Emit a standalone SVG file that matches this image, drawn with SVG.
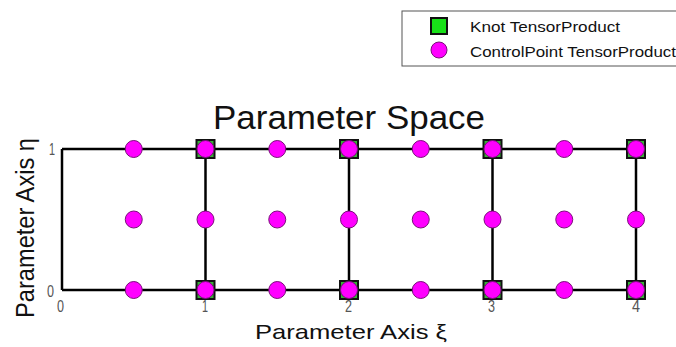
<svg xmlns="http://www.w3.org/2000/svg" width="676" height="347" viewBox="0 0 676 347">
<style>
.grid{stroke:#000;stroke-width:2.5;fill:none}
.knot{fill:#38b038;stroke:#111;stroke-width:2}
.cp{fill:#ff00ff;stroke:#7a107a;stroke-width:1}
.t{font-family:"Liberation Sans",Arial,sans-serif;fill:#111}
.tick{font-family:"Liberation Sans",Arial,sans-serif;fill:#555;font-size:16px}
</style>
<defs>
<rect id="k" x="-9" y="-9" width="18" height="18" class="knot"/>
<circle id="c" r="8.5" class="cp"/>
</defs>
<rect width="676" height="347" fill="#fff"/>
<g id="legend">
<rect x="402" y="11" width="290" height="55" fill="#fff" stroke="#555" stroke-width="1"/>
<rect x="431" y="18" width="16" height="16" fill="#18e018" stroke="#111" stroke-width="2"/>
<circle cx="439" cy="50" r="8" class="cp"/>
<text class="t" x="470" y="32" font-size="15" textLength="150" lengthAdjust="spacingAndGlyphs">Knot TensorProduct</text>
<text class="t" x="470" y="57" font-size="15" textLength="206" lengthAdjust="spacingAndGlyphs">ControlPoint TensorProduct</text>
</g>
<text class="t" x="213" y="129" font-size="33" textLength="272" lengthAdjust="spacingAndGlyphs">Parameter Space</text>
<g id="connectors">
<line class="grid" x1="62" y1="149" x2="636" y2="149"/>
<line class="grid" x1="62" y1="290" x2="636" y2="290"/>
<line class="grid" x1="62" y1="149" x2="62" y2="290"/>
<line class="grid" x1="205.5" y1="149" x2="205.5" y2="290"/>
<line class="grid" x1="349" y1="149" x2="349" y2="290"/>
<line class="grid" x1="492.5" y1="149" x2="492.5" y2="290"/>
<line class="grid" x1="636" y1="149" x2="636" y2="290"/>
</g>
<g id="knots">
<use href="#k" x="205.5" y="149"/><use href="#k" x="349" y="149"/><use href="#k" x="492.5" y="149"/><use href="#k" x="636" y="149"/>
<use href="#k" x="205.5" y="290"/><use href="#k" x="349" y="290"/><use href="#k" x="492.5" y="290"/><use href="#k" x="636" y="290"/>
</g>
<g id="controlpoints">
<use href="#c" x="133.75" y="149"/><use href="#c" x="205.5" y="149"/><use href="#c" x="277.25" y="149"/><use href="#c" x="349" y="149"/><use href="#c" x="420.75" y="149"/><use href="#c" x="492.5" y="149"/><use href="#c" x="564.25" y="149"/><use href="#c" x="636" y="149"/>
<use href="#c" x="133.75" y="219.5"/><use href="#c" x="205.5" y="219.5"/><use href="#c" x="277.25" y="219.5"/><use href="#c" x="349" y="219.5"/><use href="#c" x="420.75" y="219.5"/><use href="#c" x="492.5" y="219.5"/><use href="#c" x="564.25" y="219.5"/><use href="#c" x="636" y="219.5"/>
<use href="#c" x="133.75" y="290"/><use href="#c" x="205.5" y="290"/><use href="#c" x="277.25" y="290"/><use href="#c" x="349" y="290"/><use href="#c" x="420.75" y="290"/><use href="#c" x="492.5" y="290"/><use href="#c" x="564.25" y="290"/><use href="#c" x="636" y="290"/>
</g>
<g id="ticks">
<text class="tick" x="49" y="155" textLength="6" lengthAdjust="spacingAndGlyphs">1</text>
<text class="tick" x="47" y="297" textLength="7" lengthAdjust="spacingAndGlyphs">0</text>
<text class="tick" x="57" y="312" textLength="7" lengthAdjust="spacingAndGlyphs">0</text>
<text class="tick" x="202" y="312" textLength="6" lengthAdjust="spacingAndGlyphs">1</text>
<text class="tick" x="345" y="312" textLength="7" lengthAdjust="spacingAndGlyphs">2</text>
<text class="tick" x="488" y="312" textLength="7" lengthAdjust="spacingAndGlyphs">3</text>
<text class="tick" x="632" y="312" textLength="8" lengthAdjust="spacingAndGlyphs">4</text>
</g>
<text class="t" x="255" y="339" font-size="21" textLength="192" lengthAdjust="spacingAndGlyphs">Parameter Axis ξ</text>
<text class="t" transform="translate(34,318) rotate(-90)" x="0" y="0" font-size="25" textLength="180" lengthAdjust="spacingAndGlyphs">Parameter Axis η</text>
</svg>
